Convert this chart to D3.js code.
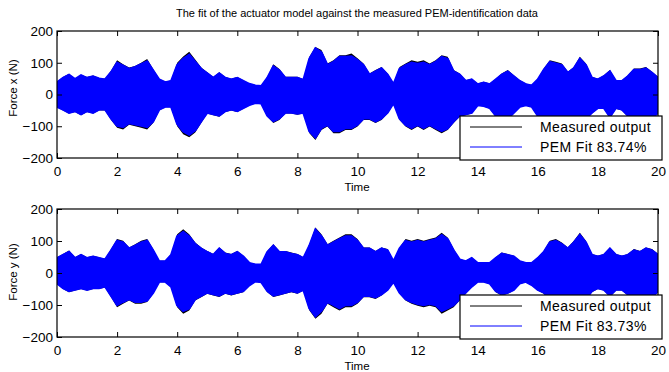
<!DOCTYPE html>
<html>
<head>
<meta charset="utf-8">
<script src="https://cdnjs.cloudflare.com/ajax/libs/d3/7.8.5/d3.min.js"></script>
<style>
  body { margin: 0; background: #fff; }
  svg { display: block; font-family: "Liberation Sans", Arial, sans-serif; }
  .tick text { font-size: 13.5px; fill: #000; }
  .tick line { stroke: #000; }
  .domain { display: none; }
</style>
</head>
<body>
<svg id="chart" width="669" height="372"></svg>
<script>
const sampleStep = 0.2
const xTicks = [0, 2, 4, 6, 8, 10, 12, 14, 16, 18, 20]
const yTicks = [-200, -100, 0, 100, 200]

// Force x, measured output
const measXUpper = [40, 55, 65, 50, 62, 55, 60, 52, 50, 75,
  108, 95, 85, 90, 100, 112, 80, 50, 40, 45,
  100, 120, 135, 110, 85, 70, 55, 70, 55, 50,
  55, 45, 35, 30, 28, 56, 95, 80, 56, 56,
  56, 48, 119, 150, 140, 98, 108, 124, 124, 129,
  114, 98, 66, 77, 87, 66, 35, 87, 98, 108,
  103, 108, 98, 108, 124, 119, 77, 66, 45, 50,
  35, 40, 35, 50, 66, 77, 61, 45, 35, 30,
  50, 82, 108, 103, 98, 72, 87, 119, 98, 56,
  50, 61, 77, 45, 45, 61, 82, 82, 87, 72,
  56]
const measXLower = [-40, -50, -60, -55, -65, -55, -60, -50, -50, -80,
  -105, -110, -95, -100, -105, -110, -90, -50, -40, -40,
  -100, -125, -135, -120, -90, -60, -65, -70, -55, -50,
  -55, -45, -35, -28, -30, -70, -90, -80, -60, -60,
  -64, -60, -122, -143, -112, -101, -122, -122, -112, -112,
  -101, -80, -80, -90, -80, -60, -28, -80, -101, -112,
  -101, -112, -101, -112, -122, -112, -90, -70, -65, -60,
  -35, -38, -45, -70, -75, -80, -60, -40, -35, -40,
  -70, -80, -85, -85, -80, -80, -85, -90, -80, -60,
  -45, -45, -75, -45, -50, -70, -80, -80, -85, -80,
  -60]
// Force x, PEM fit
const fitXUpper = [38, 52, 62, 48, 60, 52, 57, 50, 47, 70,
  100, 90, 80, 86, 95, 104, 75, 47, 38, 42,
  92, 112, 125, 102, 80, 66, 52, 66, 52, 47,
  52, 42, 33, 28, 26, 52, 88, 75, 52, 52,
  52, 45, 112, 145, 132, 92, 102, 118, 118, 120,
  108, 92, 62, 72, 82, 62, 32, 80, 92, 100,
  96, 100, 92, 102, 118, 112, 72, 62, 42, 47,
  32, 37, 32, 47, 62, 72, 57, 42, 32, 28,
  47, 77, 102, 97, 92, 68, 82, 112, 92, 52,
  47, 57, 72, 42, 42, 57, 77, 77, 82, 68,
  52]
const fitXLower = [-38, -47, -57, -52, -62, -52, -57, -47, -47, -75,
  -98, -102, -90, -94, -98, -102, -84, -47, -38, -38,
  -92, -116, -126, -112, -84, -57, -62, -66, -52, -47,
  -52, -42, -33, -26, -28, -66, -84, -75, -57, -57,
  -60, -57, -115, -135, -105, -95, -115, -115, -105, -106,
  -95, -75, -75, -85, -75, -57, -26, -75, -95, -105,
  -95, -105, -95, -105, -115, -106, -84, -66, -62, -57,
  -33, -36, -42, -66, -70, -75, -57, -38, -33, -38,
  -66, -75, -80, -80, -75, -75, -80, -85, -75, -57,
  -42, -42, -70, -42, -47, -66, -75, -75, -80, -75,
  -57]

// Force y, measured output
const measYUpper = [49, 59, 70, 49, 59, 49, 54, 49, 44, 75,
  106, 101, 80, 90, 101, 106, 75, 38, 38, 59,
  121, 137, 121, 95, 80, 69, 59, 80, 64, 59,
  69, 54, 33, 28, 28, 69, 90, 69, 69, 64,
  59, 49, 90, 142, 121, 90, 101, 111, 121, 121,
  106, 80, 80, 69, 80, 75, 38, 80, 106, 101,
  106, 101, 106, 111, 126, 111, 75, 44, 38, 49,
  33, 33, 33, 49, 64, 59, 54, 38, 33, 33,
  49, 69, 101, 106, 95, 80, 101, 126, 101, 59,
  54, 59, 80, 59, 54, 59, 75, 69, 80, 75,
  59]
const measYLower = [-34, -50, -60, -55, -50, -55, -50, -50, -45, -76,
  -107, -96, -86, -96, -96, -91, -65, -29, -29, -45,
  -107, -127, -117, -86, -76, -65, -70, -75, -65, -70,
  -65, -60, -40, -28, -30, -60, -75, -70, -65, -60,
  -65, -55, -117, -143, -127, -96, -107, -117, -107, -107,
  -96, -76, -76, -81, -70, -55, -29, -65, -86, -96,
  -102, -107, -102, -107, -127, -117, -107, -86, -65, -45,
  -29, -29, -34, -60, -70, -65, -55, -34, -29, -39,
  -55, -65, -85, -85, -80, -80, -85, -95, -85, -60,
  -50, -55, -75, -55, -55, -70, -80, -80, -85, -80,
  -60]
// Force y, PEM fit
const fitYUpper = [46, 56, 66, 46, 56, 46, 51, 46, 42, 70,
  100, 95, 76, 85, 95, 100, 70, 36, 36, 56,
  114, 128, 114, 90, 76, 65, 56, 76, 60, 56,
  65, 51, 31, 26, 26, 65, 85, 65, 65, 60,
  56, 46, 85, 135, 114, 85, 95, 105, 114, 114,
  100, 76, 76, 65, 76, 70, 36, 76, 100, 95,
  100, 95, 100, 105, 118, 105, 70, 42, 36, 46,
  31, 31, 31, 46, 60, 56, 51, 36, 31, 31,
  46, 65, 95, 100, 90, 76, 95, 118, 95, 56,
  51, 56, 76, 56, 51, 56, 70, 65, 76, 70,
  56]
const fitYLower = [-32, -47, -56, -52, -47, -52, -47, -47, -42, -71,
  -100, -90, -81, -90, -90, -86, -61, -27, -27, -42,
  -100, -118, -110, -81, -71, -61, -66, -70, -61, -66,
  -61, -56, -38, -26, -28, -56, -70, -66, -61, -56,
  -61, -52, -110, -135, -118, -90, -100, -110, -100, -100,
  -90, -71, -71, -76, -66, -52, -27, -61, -81, -90,
  -96, -100, -96, -100, -118, -110, -100, -81, -61, -42,
  -27, -27, -32, -56, -66, -61, -52, -32, -27, -37,
  -52, -61, -80, -80, -75, -75, -80, -90, -80, -56,
  -47, -52, -70, -52, -52, -66, -75, -75, -80, -75,
  -56]

const seriesNames = ['Measured output', 'PEM Fit']
const fitX = '83.74%'
const fitY = '83.73%'

const svg = d3.select('#chart')
const times = d3.range(measXUpper.length).map(i => i * sampleStep)

const x = d3.scaleLinear().domain([0, 20]).range([57, 658])

svg.append('text')
  .attr('x', 357).attr('y', 17)
  .attr('text-anchor', 'middle')
  .style('font-size', '11px')
  .text('The fit of the actuator model against the measured PEM-identification data')

const drawPanel = (top, bottom, ylabel, labelY, meas, fit, pct, id) => {

  const y = d3.scaleLinear().domain([-200, 200]).range([bottom, top])
  const g = svg.append('g')

  g.append('clipPath').attr('id', 'clip' + id)
    .append('rect')
    .attr('x', x(0)).attr('y', top)
    .attr('width', x(20) - x(0)).attr('height', bottom - top)

  const area = (up, lo) => d3.area()
    .x((d, i) => x(times[i]))
    .y0((d, i) => y(lo[i]))
    .y1((d, i) => y(up[i]))(up)

  g.append('path')
    .attr('clip-path', `url(#clip${id})`)
    .attr('d', area(meas[0], meas[1]))
    .attr('fill', '#000')

  g.append('path')
    .attr('clip-path', `url(#clip${id})`)
    .attr('d', area(fit[0], fit[1]))
    .attr('fill', '#0000ff')
    .attr('stroke', '#0000ff')
    .attr('stroke-width', 2.4)
    .attr('stroke-linejoin', 'miter')

  // axes, MATLAB style ticks pointing inward
  g.append('g').attr('transform', `translate(0,${bottom})`)
    .call(d3.axisBottom(x).tickValues(xTicks).tickSize(-5).tickPadding(8))
  g.append('g').attr('transform', `translate(0,${top})`)
    .call(d3.axisTop(x).tickValues(xTicks).tickSize(-5).tickFormat(''))
  g.append('g').attr('transform', `translate(${x(0)},0)`)
    .call(d3.axisLeft(y).tickValues(yTicks).tickSize(-5).tickPadding(4))
  g.append('g').attr('transform', `translate(${x(20)},0)`)
    .call(d3.axisRight(y).tickValues(yTicks).tickSize(-5).tickFormat(''))

  g.append('rect')
    .attr('x', x(0)).attr('y', top)
    .attr('width', x(20) - x(0)).attr('height', bottom - top)
    .attr('fill', 'none').attr('stroke', '#000').attr('stroke-width', 1.2)

  g.append('text')
    .attr('x', 357).attr('y', bottom + 33)
    .attr('text-anchor', 'middle')
    .style('font-size', '11.5px')
    .text('Time')

  g.append('text')
    .attr('transform', `translate(17,${labelY}) rotate(-90)`)
    .attr('text-anchor', 'middle')
    .style('font-size', '11.5px')
    .text(ylabel)

  // legend
  const lg = g.append('g').attr('transform', `translate(460,${bottom - 42})`)
  lg.append('rect')
    .attr('width', 202).attr('height', 44)
    .attr('fill', '#fff').attr('stroke', '#000').attr('stroke-width', 1.2)
  const entries = [
    { label: seriesNames[0], color: '#000' },
    { label: `${seriesNames[1]} ${pct}`, color: '#0000ff' }
  ]
  entries.forEach((e, i) => {
    const ly = 11 + i * 20
    lg.append('line')
      .attr('x1', 10).attr('x2', 62).attr('y1', ly).attr('y2', ly)
      .attr('stroke', e.color).attr('stroke-width', 1)
    lg.append('text')
      .attr('x', 80).attr('y', ly).attr('dy', '0.36em')
      .style('font-size', '14px')
      .style('letter-spacing', '0.4px')
      .text(e.label)
  })
}

drawPanel(31, 158, 'Force x (N)', 88, [measXUpper, measXLower], [fitXUpper, fitXLower], fitX, 'x')
drawPanel(209, 337, 'Force y (N)', 272, [measYUpper, measYLower], [fitYUpper, fitYLower], fitY, 'y')
</script>
</body>
</html>
